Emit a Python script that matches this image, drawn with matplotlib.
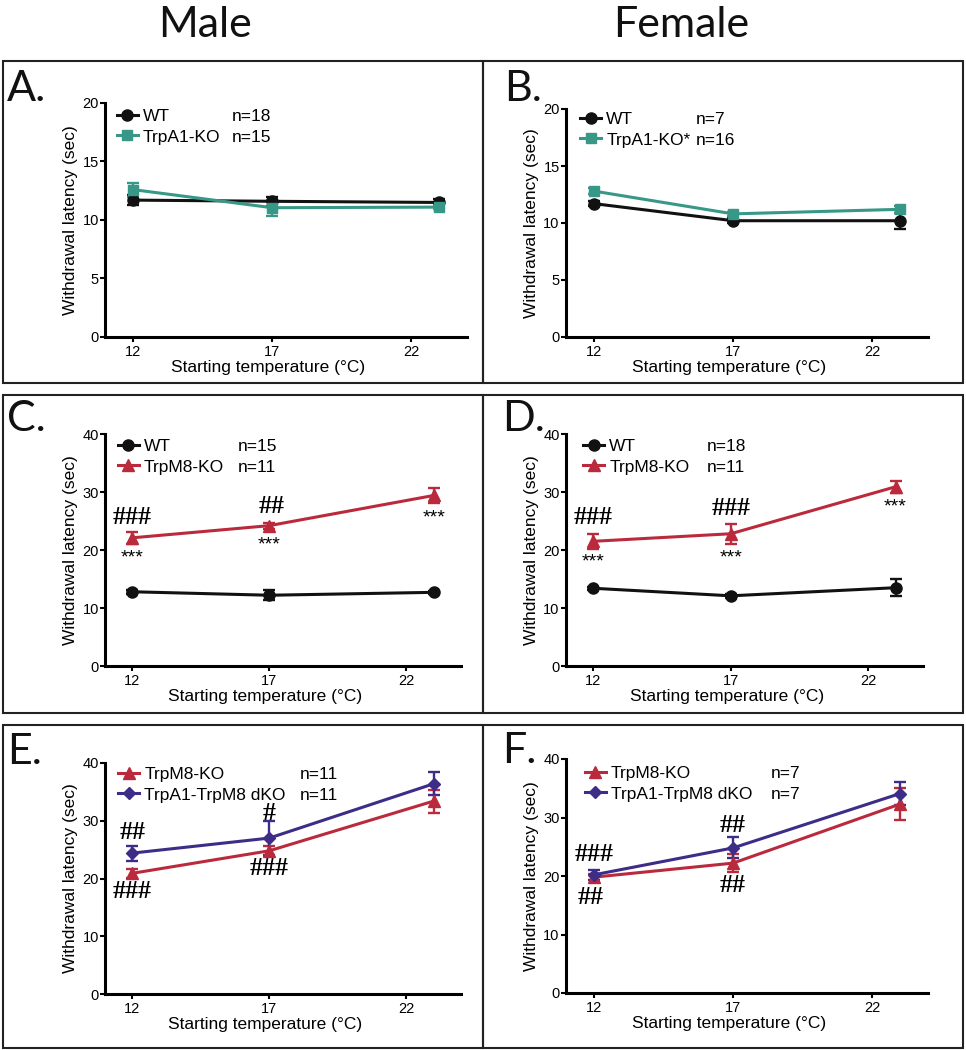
import matplotlib
matplotlib.use("Agg")
import matplotlib.pyplot as plt
from matplotlib.patches import Rectangle

plt.rcParams['font.family'] = ['Liberation Sans', 'DejaVu Sans']

# starting temperatures (last one is plotted a bit right of the 22 tick)
temps = [12, 17, 23]
xticks = [12, 17, 22]

# A. male, TrpA1
a_wt = [11.7, 11.6, 11.5]
a_wt_err = [0.4, 0.4, 0.3]
a_ko = [12.6, 11.05, 11.1]
a_ko_err = [0.6, 0.7, 0.2]
# B. female, TrpA1
b_wt = [11.7, 10.2, 10.2]
b_wt_err = [0.2, 0.2, 0.7]
b_ko = [12.8, 10.8, 11.2]
b_ko_err = [0.3, 0.2, 0.3]
# C. male, TrpM8
c_wt = [12.8, 12.2, 12.7]
c_wt_err = [0.3, 0.9, 0.3]
c_m8 = [22.1, 24.2, 29.4]
c_m8_err = [1.0, 0.5, 1.3]
# D. female, TrpM8
d_wt = [13.4, 12.1, 13.5]
d_wt_err = [0.3, 0.3, 1.5]
d_m8 = [21.5, 22.8, 30.9]
d_m8_err = [1.3, 1.7, 1.0]
# E. male, dKO
e_m8 = [20.9, 24.8, 33.4]
e_m8_err = [0.8, 0.9, 2.0]
e_dko = [24.4, 27.0, 36.4]
e_dko_err = [1.3, 2.9, 2.0]
# F. female, dKO
f_m8 = [19.8, 22.2, 32.3]
f_m8_err = [0.5, 1.5, 2.7]
f_dko = [20.2, 24.8, 34.1]
f_dko_err = [0.8, 1.8, 1.9]

# significance marks: (text, x, y)
c_marks = [("###", 12, 25.6), ("***", 12, 19.6), ("##", 17.1, 27.5),
           ("***", 17, 21.9), ("***", 23, 26.5)]
d_marks = [("###", 12, 25.6), ("***", 12, 19.0), ("###", 17, 27.1),
           ("***", 17, 19.6), ("***", 23, 28.5)]
e_marks = [("##", 12, 27.9), ("###", 12, 17.8), ("#", 17, 31.3), ("###", 17, 21.7)]
f_marks = [("###", 12, 23.6), ("##", 11.9, 16.3), ("##", 17, 28.7), ("##", 17, 18.4)]

BLACK = '#111111'
TEAL = '#389887'
RED = '#bb2a3c'
PURPLE = '#3d2c88'
LABEL_FONT = ['Lato', 'DejaVu Sans']

W, H = 966, 1050
fig = plt.figure(figsize=(W / 100, H / 100), dpi=100)


def px_axes(left, right, bottom, top):
    return fig.add_axes([left / W, 1 - bottom / H, (right - left) / W, (bottom - top) / H])


def series(ax, y, err, color, marker, ms, label):
    ax.errorbar(temps, y, yerr=err, fmt='none', ecolor=color, elinewidth=1.7,
                capsize=4.5, capthick=1.7, zorder=3)
    ln, = ax.plot(temps, y, color=color, lw=2.2, marker=marker, ms=ms,
                  label=label, zorder=4)
    return ln


def style(ax, ymax, ystep):
    ax.set_xlim(11, 24)
    ax.set_ylim(0, ymax)
    ax.set_xticks(xticks)
    ax.set_yticks(range(0, ymax + 1, ystep))
    for s in ['top', 'right']:
        ax.spines[s].set_visible(False)
    for s in ['left', 'bottom']:
        ax.spines[s].set_linewidth(2.2)
    ax.tick_params(axis='both', direction='out', length=3.5, width=1.5, labelsize=10.5)
    ax.tick_params(axis='y', pad=1)
    ax.tick_params(axis='x', pad=2)
    ax.set_xlabel('Starting temperature (°C)', fontsize=12.5, x=0.45, labelpad=1)
    ax.set_ylabel('Withdrawal latency (sec)', fontsize=12.5)
    w = ax.get_position().width * W
    ax.yaxis.set_label_coords(-27 / w, 0.5)


def legend(ax, handles, hx, dy, ntexts, nx):
    h = ax.get_position().height * H
    leg = ax.legend(handles=handles, loc='upper left', bbox_to_anchor=(hx, 1.0 - dy / h),
                    frameon=False, fontsize=12.5, handlelength=1.2, handletextpad=0.3,
                    borderpad=0, borderaxespad=0, labelspacing=0.3)
    return leg, ntexts, nx


def marks(ax, items):
    for txt, x, y in items:
        if txt.startswith('*'):
            ax.text(x, y - 1.0, txt, ha='center', va='center', fontsize=14)
        else:
            ax.text(x, y, txt, ha='center', va='center', fontsize=18.5,
                    family='Liberation Serif', weight='bold')


legs = []

# A
ax = px_axes(105, 467, 337, 103)
h1 = series(ax, a_wt, a_wt_err, BLACK, 'o', 8, 'WT')
h2 = series(ax, a_ko, a_ko_err, TEAL, 's', 7.5, 'TrpA1-KO')
style(ax, 20, 5)
legs.append((ax, legend(ax, [h1, h2], 0.033, 6, ['n=18', 'n=15'], 0.351)))

# B
ax = px_axes(566, 928, 337, 109)
h1 = series(ax, b_wt, b_wt_err, BLACK, 'o', 8, 'WT')
h2 = series(ax, b_ko, b_ko_err, TEAL, 's', 7.5, 'TrpA1-KO*')
style(ax, 20, 5)
legs.append((ax, legend(ax, [h1, h2], 0.039, 3, ['n=7', 'n=16'], 0.359)))

# C
ax = px_axes(105, 461, 666, 434)
h1 = series(ax, c_wt, c_wt_err, BLACK, 'o', 8, 'WT')
h2 = series(ax, c_m8, c_m8_err, RED, '^', 8.5, 'TrpM8-KO')
style(ax, 40, 10)
marks(ax, c_marks)
legs.append((ax, legend(ax, [h1, h2], 0.036, 5, ['n=15', 'n=11'], 0.374)))

# D
ax = px_axes(566, 923, 666, 434)
h1 = series(ax, d_wt, d_wt_err, BLACK, 'o', 8, 'WT')
h2 = series(ax, d_m8, d_m8_err, RED, '^', 8.5, 'TrpM8-KO')
style(ax, 40, 10)
marks(ax, d_marks)
legs.append((ax, legend(ax, [h1, h2], 0.048, 5, ['n=18', 'n=11'], 0.394)))

# E
ax = px_axes(105, 461, 994, 763)
h1 = series(ax, e_m8, e_m8_err, RED, '^', 8.5, 'TrpM8-KO')
h2 = series(ax, e_dko, e_dko_err, PURPLE, 'D', 6.5, 'TrpA1-TrpM8 dKO')
style(ax, 40, 10)
marks(ax, e_marks)
legs.append((ax, legend(ax, [h1, h2], 0.037, 4, ['n=11', 'n=11'], 0.548)))

# F
ax = px_axes(566, 928, 993, 759)
h1 = series(ax, f_m8, f_m8_err, RED, '^', 8.5, 'TrpM8-KO')
h2 = series(ax, f_dko, f_dko_err, PURPLE, 'D', 6.5, 'TrpA1-TrpM8 dKO')
style(ax, 40, 10)
marks(ax, f_marks)
legs.append((ax, legend(ax, [h1, h2], 0.052, 7, ['n=7', 'n=7'], 0.565)))

# n= column aligned with legend rows
fig.canvas.draw()
for ax, (leg, ntexts, nx) in legs:
    for t, n in zip(leg.get_texts(), ntexts):
        bb = t.get_window_extent()
        y0 = ax.transAxes.inverted().transform((0, bb.y0))[1]
        ax.text(nx, y0, n, transform=ax.transAxes, va='bottom', ha='left', fontsize=12.5)

# panel boxes
rows = [(61, 383), (395, 713), (725, 1048)]
cols = [(3, 483), (483, 963)]
for top, bot in rows:
    for l, r in cols:
        fig.add_artist(Rectangle((l / W, 1 - bot / H), (r - l) / W, (bot - top) / H,
                                 transform=fig.transFigure, fill=False,
                                 lw=1.5, ec='#222222'))

# panel letters
letters = [('A.', 7, 101), ('B.', 504, 101), ('C.', 7, 431),
           ('D.', 502, 431), ('E.', 7, 764), ('F.', 502, 763)]
for s, x, y in letters:
    fig.text(x / W, 1 - y / H, s, fontsize=31, family=LABEL_FONT,
             va='baseline', ha='left', color='#111111')

fig.text(205 / W, 1 - 37 / H, 'Male', fontsize=31, family=LABEL_FONT,
         va='baseline', ha='center', color='#111111')
fig.text(681 / W, 1 - 37 / H, 'Female', fontsize=31, family=LABEL_FONT,
         va='baseline', ha='center', color='#111111')

fig.savefig('out.png', dpi=100)
